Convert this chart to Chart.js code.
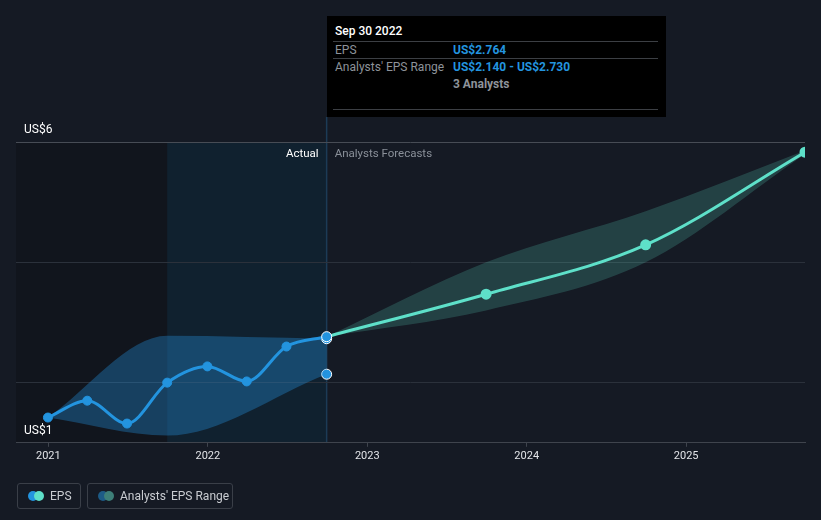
<!DOCTYPE html>
<html>
<head>
<meta charset="utf-8">
<script src="https://cdn.jsdelivr.net/npm/chart.js@4/dist/chart.umd.min.js"></script>
<style>
  html, body { margin: 0; padding: 0; background: #151a24; }
  body { width: 821px; height: 520px; position: relative; overflow: hidden; font-family: Roboto, sans-serif; }
  #wrap { position: absolute; left: 0; top: 0; width: 821px; height: 520px; }
  .tip { position: absolute; left: 327px; top: 16px; width: 339px; height: 101px; background: #000; }
  .tip .t { position: absolute; left: 8px; top: 8px; color: #fff; font-size: 12px; font-weight: 500; }
  .tip .hr { position: absolute; left: 6px; right: 8px; height: 1px; background: #3c3f44; }
  .tip .k { position: absolute; left: 8px; color: #8e939a; font-size: 12px; }
  .tip .v { position: absolute; left: 126px; color: #2394df; font-size: 12px; font-weight: 700; }
  .tip .g { color: #8e939a; }
  .legend { position: absolute; top: 483px; height: 26px; border: 1px solid #3a3f48; border-radius: 3px;
            color: #c9ccd1; font-size: 12px; line-height: 24px; box-sizing: border-box; }
  .legend .dot { position: absolute; top: 7px; width: 10px; height: 10px; border-radius: 50%; }
  .legend span.txt { position: absolute; top: 0; }
</style>
</head>
<body>
<div id="wrap"><canvas id="c" width="821" height="520"></canvas></div>

<div class="tip">
  <div class="t">Sep 30 2022</div>
  <div class="hr" style="top:25px"></div>
  <div class="k" style="top:27px">EPS</div>
  <div class="v" style="top:27px">US$2.764</div>
  <div class="hr" style="top:42px"></div>
  <div class="k" style="top:44px">Analysts' EPS Range</div>
  <div class="v" style="top:44px">US$2.140 - US$2.730</div>
  <div class="v g" style="top:61px">3 Analysts</div>
  <div class="hr" style="top:93px"></div>
</div>

<div class="legend" style="left:17px;width:64px">
  <div class="dot" style="left:10px;background:#2394df"></div>
  <div class="dot" style="left:16px;background:#5ee0c9"></div>
  <span class="txt" style="left:32px">EPS</span>
</div>
<div class="legend" style="left:87px;width:146px">
  <div class="dot" style="left:10px;background:#1d5b86"></div>
  <div class="dot" style="left:16px;background:#3d7f78"></div>
  <span class="txt" style="left:32px">Analysts' EPS Range</span>
</div>

<script>
// --- data ---
const actualDates = ['2020-12-31', '2021-03-31', '2021-06-30', '2021-09-30',
  '2021-12-31', '2022-03-31', '2022-06-30', '2022-09-30'];
const actualEps = [1.42, 1.70, 1.32, 2.00, 2.27, 2.02, 2.60, 2.764];

const pastRangeDates = ['2020-12-31', '2021-09-30', '2022-09-30'];
const pastRangeHigh = [1.42, 2.78, 2.73];
const pastRangeLow = [1.42, 1.12, 2.14];

const forecastDates = ['2022-09-30', '2023-09-30', '2024-09-30', '2025-09-30'];
const forecastEps = [2.764, 3.47, 4.29, 5.83];
const forecastHigh = [2.764, 4.00, 4.85, 5.86];
const forecastLow = [2.764, 3.20, 4.00, 5.80];

const yearTicks = [2021, 2022, 2023, 2024, 2025];
const yGridValues = [2, 4, 6];

const BLUE = '#2394df';
const TEAL = '#5ee0c9';

// date string -> fractional year
function toYear(s) {
  const d = new Date(s + 'T00:00:00Z');
  const y = d.getUTCFullYear();
  const start = Date.UTC(y, 0, 1), end = Date.UTC(y + 1, 0, 1);
  return y + (d.getTime() - start) / (end - start);
}
const pts = (dates, vals) => dates.map((d, i) => ({ x: toYear(d), y: vals[i] }));

const cutPast = toYear('2021-09-30');
const cutNow = toYear('2022-09-30');

const regions = {
  id: 'regions',
  beforeDraw(chart) {
    const { ctx, chartArea: a, scales: { x } } = chart;
    const x1 = x.getPixelForValue(cutPast), x2 = x.getPixelForValue(cutNow);
    ctx.save();
    ctx.fillStyle = '#11151d';
    ctx.fillRect(a.left, a.top, x1 - a.left, a.bottom - a.top);
    ctx.fillStyle = '#10212f';
    ctx.fillRect(x1, a.top, x2 - x1, a.bottom - a.top);
    ctx.strokeStyle = '#1c3b56';
    ctx.lineWidth = 1.5;
    ctx.beginPath();
    ctx.moveTo(x2, 117);
    ctx.lineTo(x2, a.bottom);
    ctx.stroke();
    ctx.restore();
  },
  afterDraw(chart) {
    const { ctx, scales: { x, y } } = chart;
    const xn = x.getPixelForValue(cutNow);
    ctx.save();
    ctx.font = '12px Roboto';
    ctx.textBaseline = 'middle';
    ctx.fillStyle = '#ffffff';
    ctx.textAlign = 'left';
    ctx.fillText('US$6', 24, y.getPixelForValue(6) - 12);
    ctx.fillText('US$1', 24, y.getPixelForValue(1) - 12);
    ctx.font = '11.5px Roboto';
    ctx.textAlign = 'right';
    ctx.fillText('Actual', xn - 8, 154);
    ctx.textAlign = 'left';
    ctx.fillStyle = '#8a9099';
    ctx.fillText('Analysts Forecasts', xn + 8, 154);
    ctx.restore();
  }
};

const lastIdx = (arr) => arr.map((_, i) => (i === arr.length - 1 ? 5 : 0));

new Chart(document.getElementById('c'), {
  type: 'line',
  data: {
    datasets: [
      {
        data: pts(actualDates, actualEps),
        borderColor: BLUE, backgroundColor: BLUE, borderWidth: 3,
        pointRadius: actualEps.map((_, i) => (i === actualEps.length - 1 ? 5 : 4.5)),
        pointBackgroundColor: BLUE,
        pointBorderColor: actualEps.map((_, i) => (i === actualEps.length - 1 ? '#ffffff' : BLUE)),
        pointBorderWidth: 1,
        fill: false, order: 0,
      },
      {
        data: pts(forecastDates, forecastEps),
        borderColor: TEAL, backgroundColor: TEAL, borderWidth: 3,
        pointRadius: forecastEps.map((_, i) => (i === 0 ? 0 : 4)),
        fill: false, order: 1,
      },
      {
        data: pts(pastRangeDates, pastRangeHigh),
        borderColor: 'rgba(0,0,0,0)', borderWidth: 0,
        backgroundColor: 'rgba(35,140,215,0.36)',
        pointRadius: lastIdx(pastRangeHigh), pointBackgroundColor: BLUE,
        pointBorderColor: '#ffffff', pointBorderWidth: 1,
        fill: '+1', order: 2,
      },
      {
        data: pts(pastRangeDates, pastRangeLow),
        borderColor: 'rgba(0,0,0,0)', borderWidth: 0,
        pointRadius: lastIdx(pastRangeLow), pointBackgroundColor: BLUE,
        pointBorderColor: '#ffffff', pointBorderWidth: 1,
        fill: false, order: 3,
      },
      {
        data: pts(forecastDates, forecastHigh),
        borderColor: 'rgba(0,0,0,0)', borderWidth: 0,
        backgroundColor: 'rgba(94,224,201,0.2)',
        pointRadius: 0, fill: '+1', order: 4,
      },
      {
        data: pts(forecastDates, forecastLow),
        borderColor: 'rgba(0,0,0,0)', borderWidth: 0,
        pointRadius: 0, fill: false, order: 5,
      },
    ],
  },
  options: {
    responsive: false,
    animation: false,
    events: [],
    layout: { padding: { left: 16, right: 16, top: 142, bottom: 54 } },
    plugins: { legend: { display: false }, tooltip: { enabled: false } },
    datasets: { line: { cubicInterpolationMode: 'monotone' } },
    scales: {
      x: {
        type: 'linear',
        min: 2020.797,
        max: toYear('2025-09-30'),
        afterBuildTicks: (s) => { s.ticks = yearTicks.map(v => ({ value: v })); },
        ticks: {
          color: '#e2e4e8', font: { family: 'Roboto', size: 11 }, padding: 3,
          callback: (v) => String(v),
          maxRotation: 0,
        },
        grid: { drawOnChartArea: false, drawTicks: true, tickLength: 4, color: '#3f444d' },
        border: { color: '#3f444d', width: 1 },
      },
      y: {
        min: 1, max: 6,
        afterBuildTicks: (s) => { s.ticks = yGridValues.map(v => ({ value: v })); },
        ticks: { display: false },
        grid: {
          drawTicks: false,
          color: (c) => (c.tick && c.tick.value === 6 ? '#474c55' : '#2b313b'),
        },
        border: { display: false },
      },
    },
  },
  plugins: [regions],
});
</script>
</body>
</html>
